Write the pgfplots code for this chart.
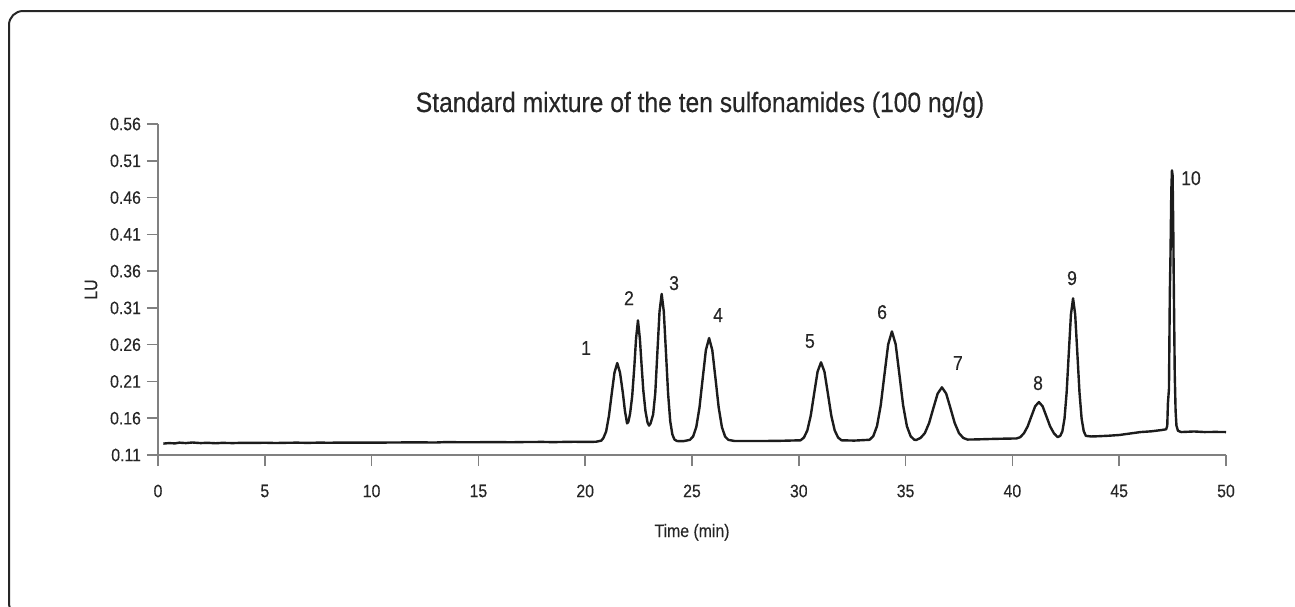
\documentclass[border=0pt]{standalone}
\usepackage{pgfplots}
\pgfplotsset{compat=1.18}
\usepackage{pgfplotstable}
\usepackage{fontspec}
\setmainfont{Liberation Sans}[FakeStretch=0.88, FakeBold=0.3]
\definecolor{textgray}{HTML}{262626}
\definecolor{axisgray}{HTML}{808080}
\definecolor{tracecol}{HTML}{1C1C1C}

\pgfplotstableread{
t y
0.25 0.1255
0.5 0.1262
0.8 0.1258
1.0 0.1268
1.3 0.1262
1.6 0.1270
2.0 0.1262
2.3 0.1266
2.7 0.1260
3.0 0.1265
3.5 0.1262
4.0 0.1266
4.5 0.1264
5.0 0.1267
5.5 0.1263
6.0 0.1266
6.5 0.1268
7.0 0.1265
7.5 0.1268
8.0 0.1267
9.0 0.1269
10.0 0.1268
11.0 0.1270
12.0 0.1272
13.0 0.1270
13.5 0.1276
14.0 0.1274
15.0 0.1274
16.0 0.1276
16.5 0.1273
17.0 0.1276
18.0 0.1278
18.5 0.1275
19.0 0.1278
19.5 0.1280
20.0 0.1278
20.5 0.1280
20.75 0.1295
20.85 0.133
20.98 0.142
21.11 0.163
21.24 0.193
21.37 0.222
21.5 0.235
21.63 0.222
21.76 0.195
21.86 0.170
21.96 0.153
22.02 0.155
22.1 0.166
22.2 0.190
22.3 0.230
22.38 0.268
22.47 0.293
22.56 0.268
22.64 0.232
22.72 0.198
22.82 0.170
22.92 0.154
22.99 0.150
23.06 0.153
23.18 0.165
23.28 0.194
23.38 0.250
23.48 0.305
23.58 0.329
23.68 0.305
23.78 0.250
23.88 0.194
23.98 0.156
24.08 0.138
24.18 0.131
24.3 0.129
24.6 0.1288
24.9 0.1306
25.05 0.1351
25.2 0.1479
25.35 0.1745
25.5 0.2139
25.65 0.2526
25.8 0.269
25.95 0.2526
26.1 0.2139
26.25 0.1745
26.4 0.1479
26.55 0.1351
26.7 0.1306
27.0 0.1290
28.0 0.1290
29.0 0.1292
30.08 0.1300
30.24 0.1337
30.4 0.1435
30.56 0.1637
30.72 0.1939
30.88 0.2234
31.04 0.236
31.2 0.2234
31.36 0.1939
31.52 0.1637
31.68 0.1435
31.84 0.1337
32.0 0.1300
32.6 0.1296
33.31 0.1307
33.485 0.1355
33.66 0.1492
33.835 0.1774
34.01 0.2194
34.185 0.2605
34.36 0.278
34.535 0.2605
34.71 0.2194
34.885 0.1774
35.06 0.1492
35.235 0.1355
35.41 0.1307
35.5 0.1305
35.7 0.1332
35.9 0.1397
36.1 0.1534
36.3 0.1737
36.5 0.1935
36.7 0.202
36.9 0.1935
37.1 0.1737
37.3 0.1534
37.5 0.1397
37.7 0.1332
37.9 0.1310
38.3 0.1312
39.0 0.1318
39.6 0.1322
40.19 0.1325
40.365 0.1342
40.54 0.1396
40.715 0.1489
40.89 0.1627
41.065 0.1762
41.24 0.182
41.415 0.1762
41.59 0.1627
41.765 0.1490
41.94 0.1397
42.115 0.1343
42.24 0.1360
42.34 0.1423
42.44 0.1596
42.54 0.1954
42.64 0.2486
42.74 0.3008
42.84 0.323
42.94 0.3008
43.04 0.2486
43.14 0.1954
43.24 0.1596
43.34 0.1423
43.44 0.1360
43.7 0.1352
44.0 0.1355
44.5 0.1362
45.0 0.1372
45.5 0.1392
46.0 0.1412
46.5 0.1422
47.0 0.1440
47.2 0.1450
47.25 0.150
47.28 0.180
47.33 0.200
47.37 0.330
47.40 0.380
47.44 0.470
47.47 0.497
47.50 0.490
47.53 0.420
47.56 0.330
47.60 0.220
47.64 0.170
47.68 0.150
47.75 0.143
47.9 0.1412
48.5 0.1420
49.0 0.1412
49.5 0.1414
50.0 0.1412
}\trace

\begin{document}
\begin{tikzpicture}
\useasboundingbox (0pt,0pt) rectangle (647.5pt,-303pt);
\draw[line width=1pt, textgray, rounded corners=7pt] (4.5pt,-5.5pt) rectangle (665pt,-308.5pt);
\node[anchor=base, text=textgray, font=\fontsize{14}{16}\selectfont] at (350pt,-56pt) {Standard mixture of the ten sulfonamides (100 ng/g)};
\begin{axis}[
  at={(79pt,-227.5pt)}, anchor=south west,
  scale only axis, width=534pt, height=165.5pt,
  xmin=0, xmax=50, ymin=0.11, ymax=0.56,
  axis x line*=bottom, axis y line*=left,
  axis line style={-, draw=axisgray, line width=0.8pt},
  tick style={draw=axisgray, line width=0.8pt},
  tick align=outside, major tick length=5.5pt,
  xtick pos=bottom, ytick pos=left,
  xtick={0,5,10,15,20,25,30,35,40,45,50},
  xticklabels={0,5,10,15,20,25,30,35,40,45,50},
  ytick={0.11,0.16,0.21,0.26,0.31,0.36,0.41,0.46,0.51,0.56},
  yticklabels={0.11,0.16,0.21,0.26,0.31,0.36,0.41,0.46,0.51,0.56},
  tick label style={font=\fontsize{9}{10}\selectfont, text=textgray},
  xticklabel style={anchor=center, yshift=-12.5pt},
  yticklabel style={anchor=east, xshift=0.5pt},
  xlabel={Time (min)},
  xlabel style={at={(axis description cs:0.5,0)}, anchor=base, yshift=-41pt, font=\fontsize{9}{10}\selectfont, text=textgray},
  ylabel={LU},
  ylabel style={at={(axis description cs:-0.0627,0.5)}, anchor=center, font=\fontsize{9}{10}\selectfont, text=textgray},
  clip=false,
]
\addplot[tracecol, line width=1.2pt, line join=round] table[x=t, y=y] {\trace};
\begin{scope}[every node/.style={font=\fontsize{10}{12}\selectfont, text=textgray, anchor=center}]
\node at (axis cs:20.04,0.2554) {1};
\node at (axis cs:22.05,0.3233) {2};
\node at (axis cs:24.16,0.3437) {3};
\node at (axis cs:26.22,0.3002) {4};
\node at (axis cs:30.52,0.2649) {5};
\node at (axis cs:33.90,0.3043) {6};
\node at (axis cs:37.45,0.2350) {7};
\node at (axis cs:41.20,0.2078) {8};
\node at (axis cs:42.79,0.3505) {9};
\node at (axis cs:48.36,0.4864) {10};
\end{scope}
\end{axis}
\end{tikzpicture}
\end{document}
